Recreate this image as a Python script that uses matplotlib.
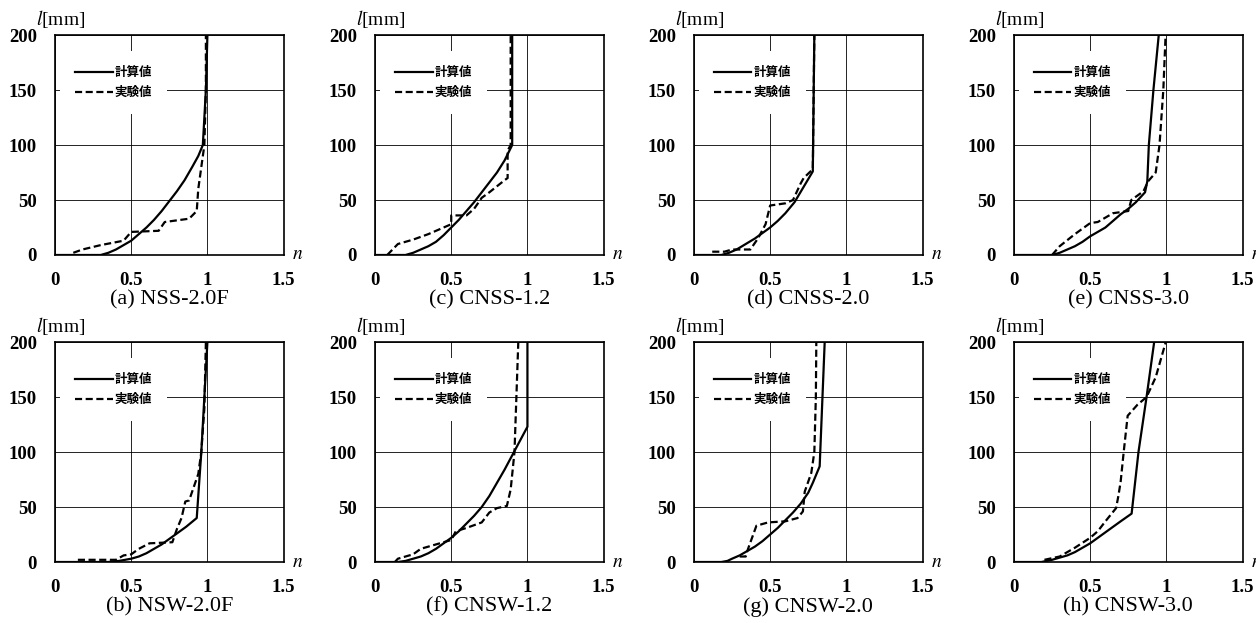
import numpy as np
import matplotlib.pyplot as plt

plt.rcParams['font.family'] = ['Liberation Serif', 'Noto Sans CJK JP']
plt.rcParams['mathtext.fontset'] = 'stix'

# -----------------------------
# Data: n (x) and l [mm] (y)
# -----------------------------
a_calc_n = [0.0, 0.30, 0.35, 0.40, 0.45, 0.50, 0.55, 0.60, 0.65, 0.70, 0.75, 0.80, 0.85, 0.90, 0.94, 0.97, 0.99, 1.00]
a_calc_l = [0, 0, 2, 5, 9, 13, 19, 25, 32, 40, 49, 58, 68, 80, 90, 100, 150, 200]
a_exp_n = [0.12, 0.18, 0.30, 0.45, 0.50, 0.68, 0.72, 0.88, 0.93, 0.94, 0.96, 0.98, 0.99, 0.99]
a_exp_l = [2, 5, 9, 13, 21, 22, 30, 33, 40, 60, 80, 100, 150, 200]

c_calc_n = [0.0, 0.20, 0.25, 0.30, 0.35, 0.40, 0.45, 0.50, 0.55, 0.60, 0.65, 0.70, 0.75, 0.80, 0.85, 0.90, 0.90]
c_calc_l = [0, 0, 2, 5, 8, 12, 18, 25, 32, 40, 48, 57, 66, 75, 86, 100, 200]
c_exp_n = [0.08, 0.15, 0.25, 0.35, 0.45, 0.50, 0.50, 0.60, 0.65, 0.70, 0.75, 0.85, 0.87, 0.87, 0.89, 0.89]
c_exp_l = [0, 10, 14, 19, 25, 28, 36, 36, 42, 52, 57, 68, 70, 95, 100, 200]

d_calc_n = [0.0, 0.18, 0.23, 0.28, 0.34, 0.40, 0.45, 0.50, 0.55, 0.60, 0.66, 0.72, 0.78, 0.79]
d_calc_l = [0, 0, 2, 5, 10, 15, 20, 25, 31, 38, 48, 62, 76, 200]
d_exp_n = [0.12, 0.20, 0.25, 0.37, 0.42, 0.47, 0.50, 0.60, 0.65, 0.70, 0.72, 0.78, 0.79]
d_exp_l = [3, 3, 5, 5, 15, 28, 45, 47, 50, 65, 70, 78, 200]

e_calc_n = [0.0, 0.25, 0.30, 0.35, 0.40, 0.45, 0.50, 0.55, 0.60, 0.65, 0.70, 0.75, 0.80, 0.86, 0.875, 0.885, 0.915, 0.95]
e_calc_l = [0, 0, 2, 5, 8, 12, 17, 21, 25, 31, 37, 42, 48, 57, 67, 100, 150, 200]
e_exp_n = [0.25, 0.30, 0.40, 0.50, 0.55, 0.65, 0.75, 0.77, 0.85, 0.88, 0.93, 0.955, 0.98, 0.995]
e_exp_l = [0, 8, 19, 29, 30, 38, 40, 50, 58, 67, 75, 100, 150, 200]

b_calc_n = [0.0, 0.35, 0.42, 0.50, 0.55, 0.60, 0.65, 0.70, 0.75, 0.80, 0.86, 0.93, 0.96, 0.98, 1.00]
b_calc_l = [0, 0, 1, 3, 5, 8, 12, 16, 21, 26, 32, 40, 100, 150, 200]
b_exp_n = [0.15, 0.40, 0.45, 0.50, 0.55, 0.62, 0.77, 0.80, 0.83, 0.855, 0.88, 0.94, 0.96, 0.98, 0.99]
b_exp_l = [2, 2, 6, 7, 12, 17, 18, 30, 40, 55, 56, 80, 100, 140, 200]

f_calc_n = [0.0, 0.15, 0.20, 0.25, 0.30, 0.35, 0.40, 0.45, 0.50, 0.55, 0.60, 0.65, 0.70, 0.75, 0.80, 0.85, 0.90, 0.95, 1.00, 1.00]
f_calc_l = [0, 0, 1, 3, 5, 8, 12, 17, 22, 28, 35, 42, 50, 60, 72, 84, 97, 110, 123, 200]
f_exp_n = [0.13, 0.15, 0.25, 0.30, 0.40, 0.50, 0.53, 0.60, 0.70, 0.75, 0.80, 0.865, 0.89, 0.915, 0.94]
f_exp_l = [0, 3, 7, 12, 16, 20, 28, 31, 36, 45, 49, 51, 66, 100, 200]

g_calc_n = [0.0, 0.18, 0.22, 0.25, 0.30, 0.35, 0.40, 0.45, 0.50, 0.55, 0.60, 0.65, 0.70, 0.75, 0.78, 0.825, 0.858]
g_calc_l = [0, 0, 1, 3, 6, 10, 14, 19, 25, 31, 38, 45, 53, 63, 72, 87, 200]
g_exp_n = [0.30, 0.34, 0.35, 0.376, 0.41, 0.486, 0.60, 0.68, 0.715, 0.727, 0.77, 0.79, 0.80, 0.803]
g_exp_l = [5, 5, 10, 20, 33, 36, 37, 40, 46, 64, 81, 100, 150, 200]

h_calc_n = [0.0, 0.18, 0.25, 0.30, 0.35, 0.40, 0.45, 0.50, 0.55, 0.60, 0.65, 0.70, 0.772, 0.817, 0.87, 0.92]
h_calc_l = [0, 0, 2, 4, 6, 9, 13, 17, 22, 27, 32, 37, 44, 100, 150, 200]
h_exp_n = [0.20, 0.30, 0.40, 0.50, 0.55, 0.60, 0.67, 0.685, 0.70, 0.72, 0.746, 0.81, 0.87, 0.93, 0.996]
h_exp_l = [2, 5, 13, 22, 28, 37, 49, 60, 73, 100, 133, 143, 150, 168, 200]

captions = ['(a) NSS-2.0F', '(c) CNSS-1.2', '(d) CNSS-2.0', '(e) CNSS-3.0',
            '(b) NSW-2.0F', '(f) CNSW-1.2', '(g) CNSW-2.0', '(h) CNSW-3.0']
calc_n = [a_calc_n, c_calc_n, d_calc_n, e_calc_n, b_calc_n, f_calc_n, g_calc_n, h_calc_n]
calc_l = [a_calc_l, c_calc_l, d_calc_l, e_calc_l, b_calc_l, f_calc_l, g_calc_l, h_calc_l]
exp_n = [a_exp_n, c_exp_n, d_exp_n, e_exp_n, b_exp_n, f_exp_n, g_exp_n, h_exp_n]
exp_l = [a_exp_l, c_exp_l, d_exp_l, e_exp_l, b_exp_l, f_exp_l, g_exp_l, h_exp_l]

x_ticks = [0, 0.5, 1, 1.5]
x_tick_labels = ['0', '0.5', '1', '1.5']
y_ticks = [0, 50, 100, 150, 200]

# -----------------------------
# Figure layout
# -----------------------------
fig = plt.figure(figsize=(12.56, 6.23), dpi=100)
lefts = [0.0438, 0.2986, 0.5525, 0.8073]
bottoms = [0.5907, 0.0979]
w, h = 0.182, 0.353

for i in range(8):
    ax = fig.add_axes([lefts[i % 4], bottoms[i // 4], w, h])
    ax.plot(calc_n[i], calc_l[i], color='black', lw=1.6, label='計算値', zorder=3)
    ax.plot(exp_n[i], exp_l[i], color='black', lw=1.6, ls=(0, (3.2, 1.6)),
            label='実験値', zorder=3)

    ax.set_xlim(0, 1.5)
    ax.set_ylim(0, 200)
    ax.set_xticks(x_ticks)
    ax.set_xticklabels(x_tick_labels)
    ax.set_yticks(y_ticks)
    ax.grid(color='black', lw=0.6)
    ax.tick_params(length=0, labelsize=13.5)
    ax.tick_params(axis='y', pad=13)
    ax.tick_params(axis='x', pad=12)
    for lab in ax.get_xticklabels() + ax.get_yticklabels():
        lab.set_fontweight('bold')
    for sp in ax.spines.values():
        sp.set_linewidth(1.2)

    leg = ax.legend(loc='upper left', bbox_to_anchor=(0.022, 0.927), borderaxespad=0,
                    frameon=True, facecolor='white', edgecolor='none', framealpha=1,
                    fancybox=False, borderpad=1.2, handlelength=3.0,
                    handletextpad=0.15, labelspacing=0.55,
                    prop={'family': 'Noto Sans CJK JP', 'size': 9, 'weight': 'bold'})
    leg.set_zorder(2.5)

    ax.text(-0.083, 1.045, '$l$[mm]', transform=ax.transAxes, fontsize=14,
            va='baseline', ha='left')
    # the axis letter n sits just right of each axes (cut by the figure edge on the last column)
    ax.text(1.035, 0.0, '$n$', transform=ax.transAxes, fontsize=14,
            va='center', ha='left')
    ax.text(0.5, -0.205, captions[i], transform=ax.transAxes, fontsize=16,
            va='center', ha='center')

fig.savefig('out.png', dpi=100)
